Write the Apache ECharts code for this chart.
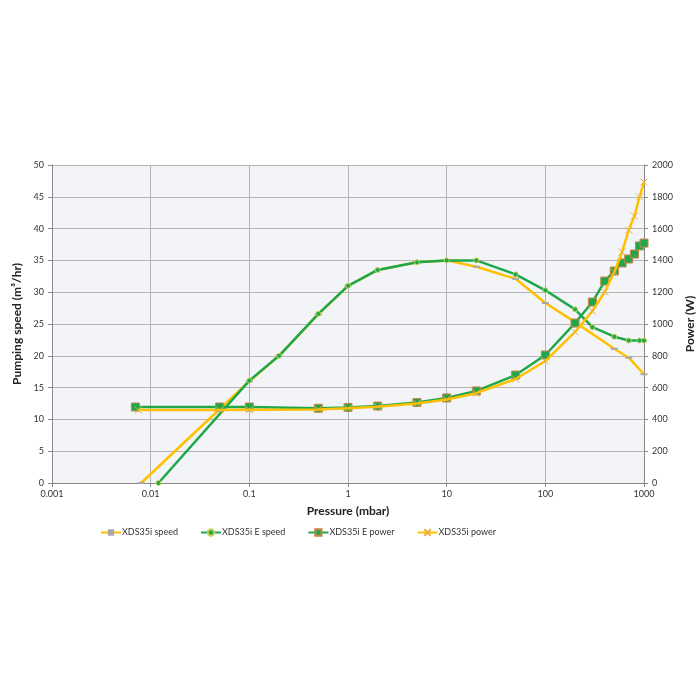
<!DOCTYPE html>
<html><head><meta charset="utf-8">
<script src="https://cdn.jsdelivr.net/npm/echarts@6/dist/echarts.min.js"></script>
<style>html,body{margin:0;padding:0;background:#fff;overflow:hidden}#c{width:700px;height:700px}</style>
</head><body><div id="c"></div>
<script>
// Pressure (mbar) and values
const speedP   = [0.008, 0.1, 0.2, 0.5, 1, 2, 5, 10, 20, 50, 100, 200, 500, 700, 1000];
const speedV   = [0, 16, 20, 26.5, 31, 33.5, 34.7, 35, 34.0, 32.1, 28.3, 25.3, 21.1, 19.7, 17.1];
const eSpeedP  = [0.012, 0.1, 0.2, 0.5, 1, 2, 5, 10, 20, 50, 100, 200, 300, 500, 700, 900, 1000];
const eSpeedV  = [0, 16.1, 20, 26.6, 31, 33.5, 34.7, 35, 35, 32.8, 30.3, 27.3, 24.5, 23.0, 22.4, 22.4, 22.4];
const ePowerP  = [0.007, 0.05, 0.1, 0.5, 1, 2, 5, 10, 20, 50, 100, 200, 300, 400, 500, 600, 700, 800, 900, 1000];
const ePowerV  = [478, 478, 478, 470, 475, 484, 506, 535, 579, 679, 805, 1006, 1138, 1270, 1333, 1384, 1409, 1440, 1491, 1509];
const powerP   = [0.0075, 0.05, 0.1, 0.5, 1, 2, 5, 10, 20, 50, 100, 200, 300, 400, 500, 600, 700, 800, 900, 1000];
const powerV   = [459, 459, 460, 463, 470, 480, 500, 525, 565, 654, 767, 950, 1082, 1201, 1327, 1453, 1591, 1679, 1799, 1893];
const names = ['XDS35i speed', 'XDS35i E speed', 'XDS35i E power', 'XDS35i power'];

const zip = (a, b) => a.map((x, i) => [x, b[i]]);
const YEL = '#FFC000', GRN = '#1EA84A';
const font = 'Lato, "Open Sans", sans-serif';
const chart = echarts.init(document.getElementById('c'));
chart.setOption({
  animation: false,
  backgroundColor: '#fff',
  grid: { left: 52, right: 56, top: 165, bottom: 217, show: true, backgroundColor: '#F3F4F8', borderWidth: 0,
          containLabel: false, outerBoundsMode: 'none' },
  legend: {
    bottom: 163, left: 100, padding: 0, itemGap: 22, itemWidth: 20, itemHeight: 8,
    textStyle: { fontFamily: font, fontSize: 9, color: '#333', padding: [0, 0, 0, -4] },
    data: names
  },
  xAxis: {
    type: 'log', logBase: 10, min: 0.001, max: 1000,
    name: 'Pressure (mbar)', nameLocation: 'middle', nameGap: 22,
    nameTextStyle: { fontFamily: font, fontSize: 12, fontWeight: 'bold', color: '#222' },
    axisLine: { show: true, onZero: false, lineStyle: { color: '#888' } },
    axisTick: { show: true, length: 4, lineStyle: { color: '#888' } },
    minorTick: { show: false },
    axisLabel: { fontFamily: font, fontSize: 9, color: '#333', margin: 7,
      formatter: v => String(+v.toPrecision(3)) },
    splitLine: { show: true, lineStyle: { color: '#B4B4B4', width: 1 } }
  },
  yAxis: [{
    type: 'value', min: 0, max: 50, interval: 5,
    name: 'Pumping speed (m³/hr)', nameLocation: 'middle', nameGap: 22,
    nameTextStyle: { fontFamily: font, fontSize: 12, fontWeight: 'bold', color: '#222' },
    axisLine: { show: true, lineStyle: { color: '#888' } },
    axisTick: { show: true, length: 4, lineStyle: { color: '#888' } },
    axisLabel: { fontFamily: font, fontSize: 9, color: '#333', margin: 8 },
    splitLine: { show: true, lineStyle: { color: '#B4B4B4', width: 1 } }
  }, {
    type: 'value', min: 0, max: 2000, interval: 200, position: 'right',
    name: 'Power (W)', nameLocation: 'middle', nameGap: 27,
    nameTextStyle: { fontFamily: font, fontSize: 12, fontWeight: 'bold', color: '#222' },
    axisLine: { show: true, lineStyle: { color: '#888' } },
    axisTick: { show: true, length: 4, lineStyle: { color: '#888' } },
    axisLabel: { fontFamily: font, fontSize: 9, color: '#333', margin: 8, formatter: v => String(v) },
    splitLine: { show: false }
  }],
  series: [{
    name: names[0], type: 'line', yAxisIndex: 0, data: zip(speedP, speedV),
    lineStyle: { color: YEL, width: 2.5 }, itemStyle: { color: '#A8A8A8' },
    symbol: 'rect', symbolSize: [7, 2], z: 2
  }, {
    name: names[1], type: 'line', yAxisIndex: 0, data: zip(eSpeedP, eSpeedV),
    lineStyle: { color: GRN, width: 2.5 }, itemStyle: { color: GRN, borderColor: '#C9D35A', borderWidth: 1 },
    symbol: 'circle', symbolSize: 5, z: 3
  }, {
    name: names[2], type: 'line', yAxisIndex: 1, data: zip(ePowerP, ePowerV),
    lineStyle: { color: GRN, width: 2.5 }, itemStyle: { color: GRN, borderColor: '#C5844A', borderWidth: 1 },
    symbol: 'rect', symbolSize: 8, z: 4
  }, {
    name: names[3], type: 'line', yAxisIndex: 1, data: zip(powerP, powerV),
    lineStyle: { color: YEL, width: 2.5 }, itemStyle: { color: 'rgba(0,0,0,0)', borderColor: '#E8B040', borderWidth: 1 },
    symbol: 'path://M0,0L10,10M10,0L0,10', symbolSize: 7, z: 5
  }]
});
</script></body></html>
